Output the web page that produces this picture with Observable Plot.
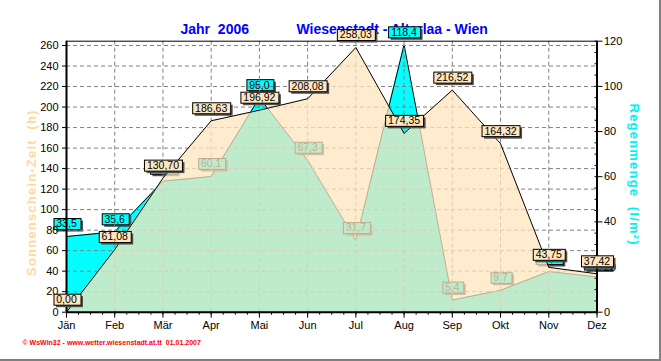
<!DOCTYPE html>
<html><head><meta charset="utf-8">
<script src="https://cdn.jsdelivr.net/npm/d3@7"></script>
<script src="https://cdn.jsdelivr.net/npm/@observablehq/plot@0.6"></script>
<style>
body{margin:0;background:#fff;}
#wrap{position:relative;width:661px;height:361px;overflow:hidden;background:#fff;}
#edge{position:absolute;left:0;top:0;width:659px;height:359px;border-right:2px solid #808080;border-bottom:2px solid #808080;pointer-events:none;}
svg{display:block;}
</style></head><body><div id="wrap"><div id="edge"></div></div>
<script>
const months = ["Jän","Feb","Mär","Apr","Mai","Jun","Jul","Aug","Sep","Okt","Nov","Dez"];
const sunHours = [0.00, 61.08, 130.70, 186.63, 196.92, 208.08, 258.03, 174.35, 216.52, 164.32, 43.75, 37.42];
const rainMm = [33.5, 35.6, 58.0, 60.1, 95.0, 67.3, 31.7, 118.4, 5.4, 9.7, 18.0, 15.6];
const leftTicks = d3.range(0, 261, 20);
const rightTicks = d3.range(0, 121, 20);
const rightMinor = d3.range(0, 121, 5);
const monthMinor = d3.range(0, 11.001, 0.25);
const titleLeft = "Jahr\u00a0\u00a02006";
const titleRight = "Wiesenstadt - Alterlaa - Wien";
const yTitleLeft = "Sonnenschein-Zeit\u00a0\u00a0(h)";
const yTitleRight = "Regenmenge\u00a0\u00a0(l/m²)";
const footer = "© WsWin32 - www.wetter.wiesenstadt.at.tt\u00a0\u00a001.01.2007";

const K = 264.2 / 120; // left units per right unit
const data = months.map((m, i) => ({
  i, month: m, sun: sunHours[i], rain: rainMm[i], rainY: rainMm[i] * K,
  sunLabel: sunHours[i].toFixed(2).replace(".", ","),
  rainLabel: rainMm[i].toFixed(1).replace(".", ",")
}));
const beige = "#FFE4BC";
const cyan = "#00FFFF";
const grid = {stroke: "#808080", strokeOpacity: 1, strokeDasharray: "4,3", strokeWidth: 1};

const chart = Plot.plot({
  width: 661, height: 361,
  marginLeft: 66, marginRight: 64.5, marginTop: 40.7, marginBottom: 49.3,
  style: {fontFamily: "'Liberation Sans', Arial, sans-serif", fontSize: "11px", background: "transparent", color: "#000", overflow: "visible"},
  x: {type: "linear", domain: [0, 11], axis: null},
  y: {type: "linear", domain: [0, 120 * K], axis: null},
  marks: [
    Plot.text([titleLeft], {text: d => d, frameAnchor: "top-left", dx: 114, dy: -12, textAnchor: "start", lineAnchor: "middle", fontWeight: "bold", fontSize: 14, fill: "#0000FF"}),
    Plot.text([titleRight], {text: d => d, frameAnchor: "top-left", dx: 230, dy: -12, textAnchor: "start", lineAnchor: "middle", fontWeight: "bold", fontSize: 14, fill: "#0000FF"}),
    Plot.text([yTitleLeft], {text: d => d, frameAnchor: "left", dx: -35, dy: 16, rotate: -90, textAnchor: "middle", lineAnchor: "middle", fontWeight: "bold", fontSize: 13, fill: "#FFD9A0"}),
    Plot.text([yTitleRight], {text: d => d, frameAnchor: "right", dx: 37, dy: -2, rotate: 90, textAnchor: "middle", lineAnchor: "middle", fontWeight: "bold", fontSize: 13, fill: "#00F0F0"}),
    Plot.text([footer], {text: d => d, frameAnchor: "bottom-left", dx: -44, dy: 31, textAnchor: "start", lineAnchor: "middle", fontWeight: "bold", fontSize: 7, fill: "#FF0000"}),
    Plot.areaY(data, {x: "i", y: "rainY", fill: cyan}),
    Plot.lineY(data, {x: "i", y: "rainY", stroke: "#000", strokeWidth: 1}),
    Plot.text(data, {x: "i", y: "rainY", text: "rainLabel", dy: -12.5, fontSize: 10.5, fill: "#000"}),
    Plot.ruleY(leftTicks.filter(v => v > 0), grid),
    Plot.ruleX(d3.range(1, 11), grid),
    Plot.areaY(data, {x: "i", y: "sun", fill: beige, fillOpacity: 0.75}),
    Plot.lineY(data, {x: "i", y: "sun", stroke: "#000", strokeWidth: 1}),
    Plot.ruleY([120 * K], {stroke: "#000", strokeWidth: 1}),
    Plot.ruleX([0, 11], {stroke: "#000", strokeWidth: 2}),
    Plot.ruleY([0], {stroke: "#000", strokeWidth: 2}),
    Plot.axisY({anchor: "left", ticks: leftTicks, tickSize: 4, tickPadding: 4, fontSize: 11, label: null}),
    Plot.axisY({anchor: "right", ticks: rightTicks.map(v => v * K), tickFormat: d => String(Math.round(d / K)), tickSize: 5, tickPadding: 2, fontSize: 11, label: null}),
    Plot.axisY({anchor: "right", ticks: rightMinor.map(v => v * K), tickFormat: () => "", tickSize: -3, label: null}),
    Plot.axisX({anchor: "bottom", ticks: d3.range(0, 12), tickFormat: i => months[i], tickSize: 6, tickPadding: 3, fontSize: 11, label: null}),
    Plot.axisX({anchor: "bottom", ticks: monthMinor, tickFormat: () => "", tickSize: 3, label: null}),
    Plot.text(data, {x: "i", y: "sun", text: "sunLabel", dy: -12.5, fontSize: 10.5, fill: "#000"})
  ]
});
document.getElementById("wrap").insertBefore(chart, document.getElementById("edge"));

const texts = Array.from(chart.querySelectorAll("text"));
texts.filter(t => t.textContent === yTitleLeft || t.textContent === yTitleRight)
  .forEach(t => t.style.letterSpacing = "1.2px");

function findGroup(firstLabel) {
  const groups = Array.from(chart.querySelectorAll("g"));
  return groups.find(g => {
    const ts = Array.from(g.children).filter(c => c.tagName.toLowerCase() === "text");
    return ts.length === data.length && ts[0].textContent === firstLabel;
  });
}
function boxify(g, fill) {
  if (!g) return;
  const ns = "http://www.w3.org/2000/svg";
  Array.from(g.children).filter(c => c.tagName.toLowerCase() === "text").forEach(t => {
    const bb = t.getBBox();
    const w = Math.round(bb.width + 6), h = 11;
    const x = Math.round(bb.x + bb.width / 2 - w / 2) + 0.5;
    const y = Math.round(bb.y + bb.height / 2 - h / 2) + 0.5;
    const tr = t.getAttribute("transform");
    const sh = document.createElementNS(ns, "rect");
    sh.setAttribute("x", x + 2); sh.setAttribute("y", y + 2);
    sh.setAttribute("width", w); sh.setAttribute("height", h);
    sh.setAttribute("fill", "#505050");
    const r = document.createElementNS(ns, "rect");
    r.setAttribute("x", x); r.setAttribute("y", y);
    r.setAttribute("width", w); r.setAttribute("height", h);
    r.setAttribute("fill", fill); r.setAttribute("stroke", "#000"); r.setAttribute("stroke-width", 1);
    if (tr) { sh.setAttribute("transform", tr); r.setAttribute("transform", tr); }
    g.insertBefore(sh, t);
    g.insertBefore(r, t);
  });
}
boxify(findGroup(data[0].rainLabel), cyan);
boxify(findGroup(data[0].sunLabel), "#FFE6BE");
</script>
</body></html>
